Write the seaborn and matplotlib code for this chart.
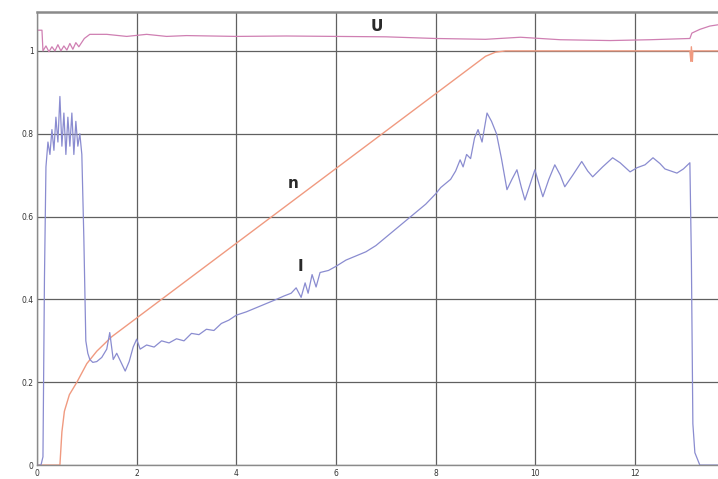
import matplotlib
matplotlib.use("Agg")
import matplotlib.pyplot as plt
import seaborn as sns

# Time axis (s) and measured traces, normalised values
I_x = [0, 0.08, 0.12, 0.15, 0.18, 0.22, 0.26, 0.3, 0.34, 0.38, 0.42, 0.46, 0.5, 0.54,
       0.58, 0.62, 0.66, 0.7, 0.74, 0.78, 0.82, 0.86, 0.9, 0.94, 0.98, 1.02, 1.06, 1.12,
       1.2, 1.3, 1.4, 1.46, 1.53, 1.6, 1.68, 1.77, 1.85, 1.93, 2.0, 2.07, 2.2, 2.35, 2.5,
       2.65, 2.8, 2.95, 3.1, 3.25, 3.4, 3.55, 3.7, 3.85, 4.0, 4.2, 4.4, 4.6, 4.8, 4.95,
       5.1, 5.2, 5.3, 5.38, 5.44, 5.52, 5.6, 5.68, 5.85, 6.0, 6.2, 6.4, 6.6, 6.8, 7.0,
       7.2, 7.4, 7.6, 7.8, 8.0, 8.1, 8.2, 8.3, 8.4, 8.49, 8.55, 8.62, 8.7, 8.78, 8.85,
       8.93, 9.03, 9.12, 9.22, 9.32, 9.43, 9.53, 9.63, 9.72, 9.79, 9.9, 9.99, 10.07,
       10.15, 10.27, 10.39, 10.5, 10.59, 10.75, 10.93, 11.05, 11.15, 11.35, 11.55, 11.7,
       11.9, 12.04, 12.2, 12.36, 12.5, 12.6, 12.72, 12.84, 12.97, 13.1, 13.13, 13.16,
       13.2, 13.3, 13.66]
I_y = [0, 0, 0.02, 0.45, 0.72, 0.78, 0.75, 0.81, 0.76, 0.84, 0.78, 0.89, 0.77, 0.85,
       0.75, 0.84, 0.77, 0.85, 0.75, 0.83, 0.77, 0.8, 0.75, 0.55, 0.3, 0.27, 0.255, 0.248,
       0.25, 0.26, 0.28, 0.32, 0.255, 0.27, 0.25, 0.227, 0.25, 0.285, 0.304, 0.28, 0.29,
       0.285, 0.3, 0.295, 0.305, 0.3, 0.318, 0.315, 0.328, 0.325, 0.342, 0.35, 0.362,
       0.37, 0.38, 0.39, 0.4, 0.408, 0.415, 0.428, 0.405, 0.44, 0.415, 0.46, 0.43, 0.465,
       0.47, 0.48, 0.495, 0.505, 0.515, 0.53, 0.55, 0.57, 0.59, 0.61, 0.63, 0.655, 0.67,
       0.68, 0.69, 0.71, 0.737, 0.72, 0.75, 0.74, 0.79, 0.81, 0.78, 0.85, 0.83, 0.8, 0.74,
       0.665, 0.69, 0.713, 0.67, 0.64, 0.68, 0.713, 0.68, 0.648, 0.69, 0.725, 0.7, 0.672,
       0.7, 0.733, 0.71, 0.696, 0.72, 0.742, 0.73, 0.708, 0.718, 0.725, 0.742, 0.728,
       0.715, 0.71, 0.705, 0.715, 0.73, 0.5, 0.1, 0.03, 0.0, 0.0]

U_x = [0, 0.1, 0.12, 0.18, 0.24, 0.3, 0.36, 0.42, 0.48, 0.54, 0.6, 0.66, 0.72, 0.78,
       0.84, 0.95, 1.06, 1.4, 1.8, 2.2, 2.6, 3.0, 4.0, 5.0, 6.0, 7.0, 8.0, 9.0, 9.7,
       10.5, 11.5, 12.3, 13.1, 13.14, 13.3, 13.5, 13.66]
U_y = [1.05, 1.05, 1.0, 1.012, 0.998, 1.01, 1.0, 1.015, 1.0, 1.012, 1.002, 1.018,
       1.004, 1.02, 1.01, 1.03, 1.04, 1.04, 1.035, 1.04, 1.035, 1.037, 1.035, 1.036,
       1.035, 1.034, 1.03, 1.028, 1.033, 1.027, 1.025, 1.027, 1.03, 1.043, 1.052,
       1.06, 1.063]

n_x = [0, 0.46, 0.5, 0.55, 0.65, 0.8, 1.0, 1.2, 1.5, 9.0, 9.2, 9.4, 9.6, 13.1, 13.12,
       13.13, 13.15, 13.16, 13.66]
n_y = [0, 0, 0.08, 0.13, 0.17, 0.2, 0.245, 0.275, 0.31, 0.987, 0.997, 1.0, 1.0, 1.0,
       0.975, 1.01, 0.975, 1.0, 1.0]

x_ticks = [0, 2, 4, 6, 8, 10, 12]
y_ticks = [0, 0.2, 0.4, 0.6, 0.8, 1.0]
y_tick_labels = ["0", "0.2", "0.4", "0.6", "0.8", "1"]

sns.set_style("white")
plt.rcParams["font.family"] = ["DejaVu Sans"]

fig = plt.figure(figsize=(7.18, 4.79), dpi=100)
ax = fig.add_axes([0.0515, 0.029, 0.96, 0.946])

grid_color = "#606060"
for xt in x_ticks:
    ax.axvline(xt, color=grid_color, lw=0.9, zorder=0)
for yt in y_ticks:
    ax.axhline(yt, color=grid_color, lw=0.9, zorder=0)

sns.lineplot(x=n_x, y=n_y, ax=ax, color="#f09a80", lw=1.0, sort=False,
             estimator=None)
sns.lineplot(x=U_x, y=U_y, ax=ax, color="#cf7fb2", lw=0.9, sort=False,
             estimator=None)
sns.lineplot(x=I_x, y=I_y, ax=ax, color="#8a8cd0", lw=0.9, sort=False,
             estimator=None)

ax.set_xlim(0, 13.83)
ax.set_ylim(0, 1.094)
ax.set_xticks(x_ticks)
ax.set_xticklabels([str(v) for v in x_ticks])
ax.set_yticks(y_ticks)
ax.set_yticklabels(y_tick_labels)
ax.tick_params(axis="both", labelsize=5.5, colors="#333333", length=1.5, width=0.6,
               pad=1)

for side in ["top", "bottom", "left"]:
    ax.spines[side].set_color("#8a8a8a")
    ax.spines[side].set_linewidth(1.0)
ax.spines["top"].set_linewidth(1.8)
ax.spines["right"].set_visible(False)

label_style = dict(fontsize=11, fontweight="bold", color="#2a2a2a",
                   ha="center", va="center")
ax.text(6.82, 1.058, "U", **label_style)
ax.text(5.14, 0.68, "n", **label_style)
ax.text(5.28, 0.48, "I", **label_style)

fig.savefig("out.png", dpi=100)
